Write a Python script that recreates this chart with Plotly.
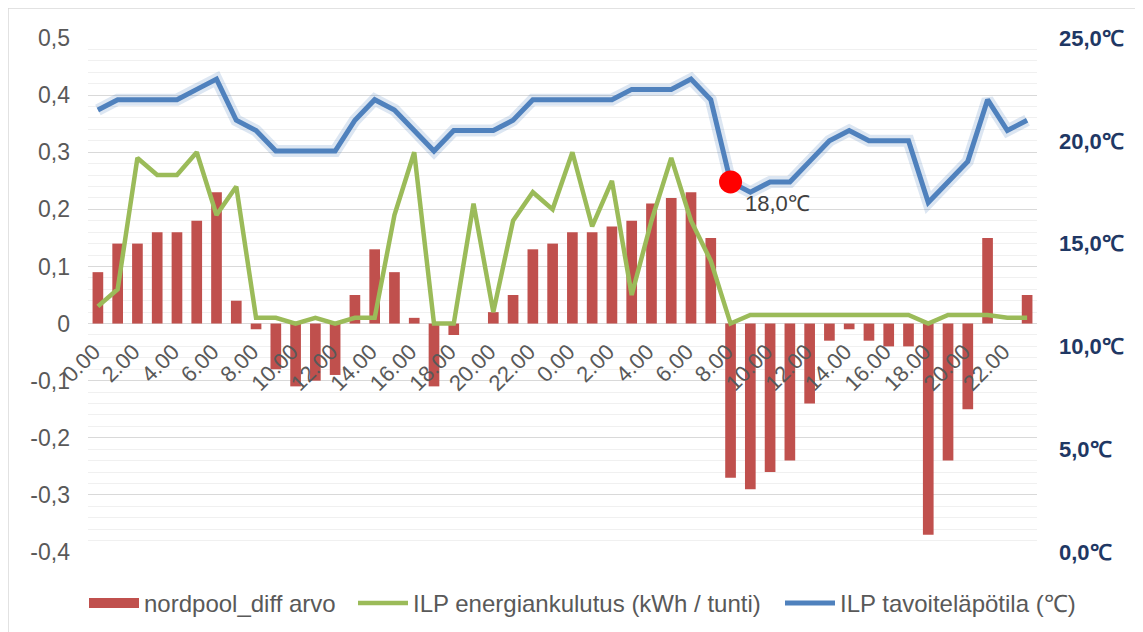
import plotly.graph_objects as go

# ---- data ----
hour_ticks = ["0.00", "2.00", "4.00", "6.00", "8.00", "10.00", "12.00", "14.00",
              "16.00", "18.00", "20.00", "22.00"] * 2
nordpool_diff = [0.09, 0.14, 0.14, 0.16, 0.16, 0.18, 0.23, 0.04, -0.01, -0.08,
                 -0.11, -0.10, -0.09, 0.05, 0.13, 0.09, 0.01, -0.11, -0.02, 0.0,
                 0.02, 0.05, 0.13, 0.14, 0.16, 0.16, 0.17, 0.18, 0.21, 0.22,
                 0.23, 0.15, -0.27, -0.29, -0.26, -0.24, -0.14, -0.03, -0.01, -0.03,
                 -0.04, -0.04, -0.37, -0.24, -0.15, 0.15, 0.0, 0.05]
energy_kwh = [0.03, 0.06, 0.29, 0.26, 0.26, 0.30, 0.19, 0.24, 0.01, 0.01,
              0.0, 0.01, 0.0, 0.01, 0.01, 0.19, 0.30, 0.0, 0.0, 0.21,
              0.02, 0.18, 0.23, 0.20, 0.30, 0.17, 0.25, 0.05, 0.18, 0.29,
              0.18, 0.11, 0.0, 0.015, 0.015, 0.015, 0.015, 0.015, 0.015, 0.015,
              0.015, 0.015, 0.0, 0.015, 0.015, 0.015, 0.01, 0.01]
target_temp = [21.5, 22, 22, 22, 22, 22.5, 23, 21, 20.5, 19.5,
               19.5, 19.5, 19.5, 21, 22, 21.5, 20.5, 19.5, 20.5, 20.5,
               20.5, 21, 22, 22, 22, 22, 22, 22.5, 22.5, 22.5,
               23, 22, 18, 17.5, 18, 18, 19, 20, 20.5, 20,
               20, 20, 17, 18, 19, 22, 20.5, 21]
highlight_index = 32
highlight_label = "18,0℃"
left_tickvals = [-0.4, -0.3, -0.2, -0.1, 0, 0.1, 0.2, 0.3, 0.4, 0.5]
left_ticktext = ["-0,4", "-0,3", "-0,2", "-0,1", "0", "0,1", "0,2", "0,3", "0,4", "0,5"]
right_tickvals = [0, 5, 10, 15, 20, 25]
right_ticktext = ["0,0℃", "5,0℃", "10,0℃", "15,0℃", "20,0℃", "25,0℃"]
names = ["nordpool_diff arvo", "ILP energiankulutus (kWh / tunti)", "ILP tavoiteläpötila (℃)"]

x = list(range(len(nordpool_diff)))
FONT = "Liberation Sans, Arial, sans-serif"
RED, GREEN, BLUE = "#C0504D", "#9BBB59", "#4F81BD"

# page body has an 8px margin; figure sized so the plot area lands where the reference has it
OFF = 8
W, H = 1135, 624
L, R, T, B = 80, 106, 30, 80
pw, ph = W - L - R, H - T - B


def px_x(screen_p):
    return (screen_p - OFF - L) / pw


fig = go.Figure()
fig.add_trace(go.Bar(x=x, y=nordpool_diff, name=names[0], marker_color=RED,
                     marker_line_width=0, showlegend=False))
# legend entry for the bars (wide rectangular swatch, as in the reference)
fig.add_trace(go.Scatter(x=[None], y=[None], name=names[0], mode="lines",
                         line=dict(color=RED, width=12), legend="legend", hoverinfo="skip"))
fig.add_trace(go.Scatter(x=x, y=energy_kwh, name=names[1], mode="lines",
                         line=dict(color=GREEN, width=4.5), legend="legend2"))
# soft glow under the temperature line
fig.add_trace(go.Scatter(x=x, y=target_temp, yaxis="y2", mode="lines", showlegend=False,
                         hoverinfo="skip", line=dict(color="rgba(79,129,189,0.20)", width=12)))
fig.add_trace(go.Scatter(x=x, y=target_temp, yaxis="y2", name=names[2], mode="lines",
                         line=dict(color=BLUE, width=5), legend="legend3"))
fig.add_trace(go.Scatter(x=[x[highlight_index]], y=[target_temp[highlight_index]], yaxis="y2",
                         mode="markers", showlegend=False,
                         marker=dict(color="#FF0000", size=23)))

fig.add_annotation(x=x[highlight_index], y=target_temp[highlight_index], xref="x", yref="y2",
                   text=highlight_label, showarrow=False, xanchor="left", yanchor="middle",
                   xshift=12, yshift=-22, font=dict(family=FONT, size=22, color="#404040"))

# chart border (reference border at screen x=8..1141, y=8..)
fig.add_shape(type="rect", xref="paper", yref="paper",
              x0=(0 - L) / pw, x1=(1133 - L) / pw,
              y0=-(H + 20 - (H - B)) / ph, y1=(H - B) / ph,
              line=dict(color="#D9D9D9", width=1.5), layer="below")

leg_common = dict(orientation="h", xanchor="left", y=-0.1, yanchor="middle",
                  font=dict(family=FONT, size=24, color="#595959"),
                  itemwidth=50, bgcolor="rgba(0,0,0,0)")

fig.update_layout(
    width=W, height=H,
    margin=dict(l=L, r=R, t=T, b=B, autoexpand=False),
    paper_bgcolor="white", plot_bgcolor="white",
    bargap=0.46,
    font=dict(family=FONT, size=23, color="#595959"),
    xaxis=dict(range=[-0.5, len(x) - 0.5], tickvals=x[::2], ticktext=hour_ticks,
               tickangle=-45, anchor="free", position=0.4 / 0.9, automargin=False,
               showgrid=False, zeroline=False, showline=False, ticks="",
               ticklabelstandoff=10, ticklabelshift=-4,
               tickfont=dict(family=FONT, size=22, color="#595959")),
    yaxis=dict(range=[-0.4, 0.5], tickvals=left_tickvals, ticktext=left_ticktext,
               automargin=False,
               showgrid=True, gridcolor="#D9D9D9", gridwidth=1.3,
               zeroline=True, zerolinecolor="#D9D9D9", zerolinewidth=1.3,
               minor=dict(dtick=0.02, tick0=0, showgrid=True, gridcolor="#F0F0F0", gridwidth=1.3),
               ticks="", ticklabelstandoff=17,
               tickfont=dict(family=FONT, size=23, color="#595959")),
    yaxis2=dict(range=[0, 25], tickvals=right_tickvals, ticktext=right_ticktext,
                overlaying="y", side="right", showgrid=False, zeroline=False,
                automargin=False, ticks="", ticklabelstandoff=21,
                tickfont=dict(family="Liberation Sans, Arial", size=22, color="#1F3864",
                              weight="bold")),
    legend=dict(x=px_x(84), **leg_common),
    legend2=dict(x=px_x(353), **leg_common),
    legend3=dict(x=px_x(780), **leg_common),
    showlegend=True,
)

fig.write_html("out.html")
